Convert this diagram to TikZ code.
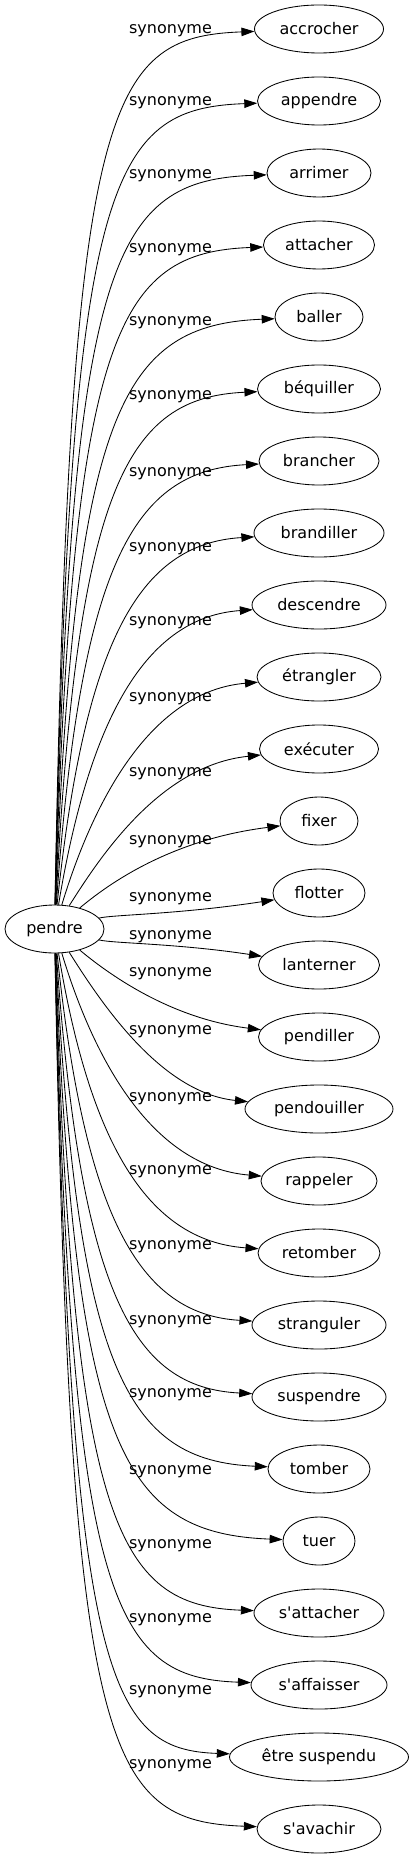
\documentclass[tikz,border=0pt]{standalone}
\usepackage{fontspec}
\setmainfont{DejaVu Sans}
\usetikzlibrary{arrows.meta, shapes.geometric}

\begin{document}
\begin{tikzpicture}[x=1pt, y=1pt, line width=0.85pt,
  >={Triangle[length=13pt,width=8.5pt]},
  font=\fontsize{16}{19}\selectfont]
  \tikzstyle{word}=[draw, ellipse, inner sep=0pt, minimum height=48pt]
  \useasboundingbox (0,0) rectangle (414,-1859);

  \node[word, minimum width=99pt] (pendre) at (54.5,-929) {pendre};

  \foreach \syn/\wid/\lby [count=\i from 0] in {
    accrocher/129/31, appendre/123/103, arrimer/104/175.5,
    attacher/111/249.5, baller/88/322.5, béquiller/123/397,
    brancher/120/474, brandiller/130/548.5, descendre/134/622.5,
    étrangler/124/699, exécuter/119/774, fixer/78/841.5,
    flotter/92/899, lanterner/121/937, pendiller/121/974,
    pendouiller/148/1032, rappeler/116/1099, retomber/122/1172,
    stranguler/134/1247, suspendre/134/1322, tomber/102/1395,
    tuer/72/1472, s\textquotesingle attacher/130/1546,
    s\textquotesingle affaisser/136/1620, être suspendu/179/1692,
    s\textquotesingle avachir/124/1766}
  {
    % mirror the curve shape below pendre
    \pgfmathsetmacro\idx{(\i<13) ? \i : (25-\i)}
    \pgfmathsetmacro\sgn{(\i<13) ? 1 : -1}
    \pgfmathsetmacro\yt{-29-72*\i}
    \pgfmathsetmacro\dist{900-72*\idx}
    \pgfmathsetmacro\pax{70+0.3*\idx*\idx}
    \pgfmathsetmacro\pay{\yt-(\sgn)*min(71+5.5*\idx,0.6*\dist)}
    \pgfmathsetmacro\pbx{105+3*\idx+0.25*\idx*\idx}
    \pgfmathsetmacro\pby{\yt-(\sgn)*(8*(1-\idx/12)+0.15*\idx*\idx)}

    \node[word, minimum width=\wid pt] (s_\i) at (319,\yt) {\syn};
    \node (l_\i) at (170.5,-\lby) {synonyme};
    \draw[->] (pendre) .. controls (\pax,\pay) and (\pbx,\pby) .. (s_\i);
  }
\end{tikzpicture}
\end{document}
